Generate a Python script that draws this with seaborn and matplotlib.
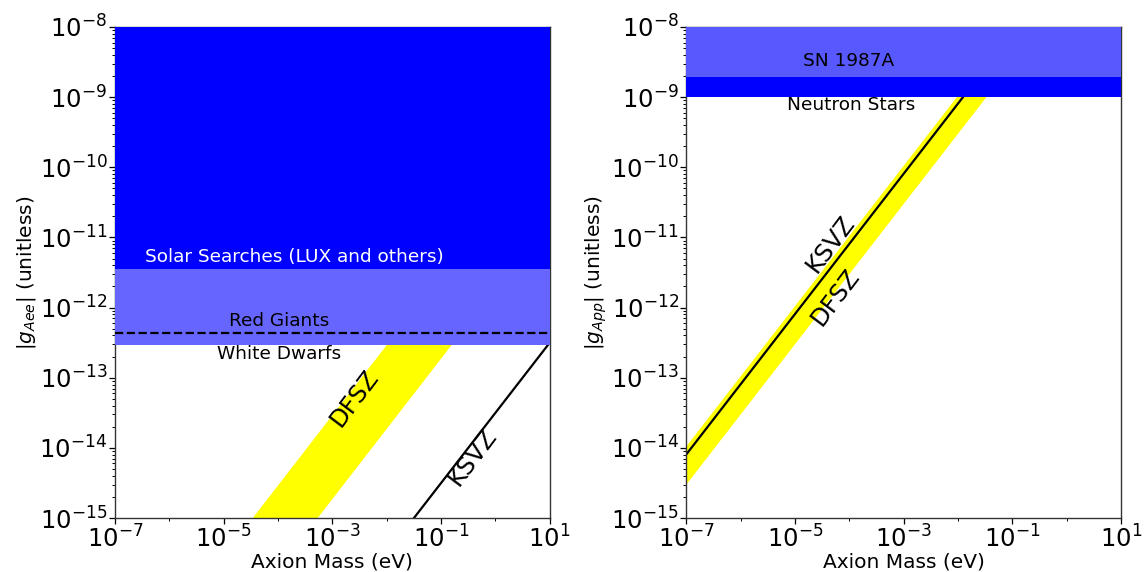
import numpy as np
import pandas as pd
import matplotlib
matplotlib.use("Agg")
import matplotlib.pyplot as plt
import seaborn as sns

# ---------------- data ----------------
mass_range = [1e-7, 1e1]          # eV
g_range = [1e-15, 1e-8]

# Left panel (electron coupling)
solar_bounds = [3.5e-12, 1e-8]        # Solar searches (dark blue)
wd_bounds = [2.9e-13, 3.5e-12]        # White dwarfs (light blue)
red_giant_level = [4.4e-13]           # dashed line
ksvz_e_mass = [1e-7, 1e1]
ksvz_e_g = [3.13e-21, 3.13e-13]
dfsz_e_mass = [1e-7, 1e1]
dfsz_e_upper = [2.9e-18, 2.9e-10]
dfsz_e_lower = [1.85e-19, 1.85e-11]

# Right panel (proton coupling)
ns_bounds = [1e-9, 1.95e-9]           # Neutron stars (dark blue)
sn_bounds = [1.95e-9, 1e-8]           # SN 1987A (light blue)
ksvz_p_mass = [1e-7, 1e1]
ksvz_p_g = [8.1e-15, 8.1e-7]
dfsz_p_mass = [1e-7, 1e1]
dfsz_p_upper = [1.05e-14, 1.05e-6]
dfsz_p_lower = [3.0e-15, 3.0e-7]

# ---------------- style ----------------
sns.set_theme(style="ticks", rc={"text.color": "black", "axes.labelcolor": "black",
                                 "xtick.color": "black", "ytick.color": "black"})
plt.rcParams['font.family'] = ['DejaVu Sans']
plt.rcParams['mathtext.fontset'] = 'dejavusans'

fig, axes = plt.subplots(1, 2, figsize=(11.45, 5.72), dpi=100)
fig.subplots_adjust(left=0.1004, right=0.979, top=0.9528, bottom=0.0944, wspace=0.315)

BLUE = "#0000ff"
LBLUE_L = "#6666ff"
LBLUE_R = "#5858ff"
YELLOW = "#ffff00"

def setup(ax, ylabel):
    ax.set_xscale("log")
    ax.set_yscale("log")
    ax.set_xlim(*mass_range)
    ax.set_ylim(*g_range)
    ax.set_xticks([1e-7, 1e-5, 1e-3, 1e-1, 1e1])
    ax.xaxis.set_minor_locator(matplotlib.ticker.FixedLocator([1e-6, 1e-4, 1e-2, 1e0]))
    ax.xaxis.set_minor_formatter(matplotlib.ticker.NullFormatter())
    ax.set_yticks([10.0**k for k in range(-15, -7)])
    ax.yaxis.set_minor_locator(matplotlib.ticker.LogLocator(base=10, subs=np.arange(2, 10), numticks=20))
    ax.yaxis.set_minor_formatter(matplotlib.ticker.NullFormatter())
    ax.tick_params(axis="both", which="major", labelsize=17.5, length=4, width=0.9,
                   direction="out", pad=1.5)
    ax.tick_params(axis="both", which="minor", length=2.5, width=0.7, direction="out")
    ax.set_xlabel("Axion Mass (eV)", fontsize=14.5, labelpad=0)
    ax.set_ylabel(ylabel, fontsize=14.5, labelpad=1)
    for s in ax.spines.values():
        s.set_visible(True)
        s.set_linewidth(1.0)
        s.set_color("#333333")

# ---------------- left panel ----------------
ax = axes[0]
setup(ax, r"$|g_{Aee}|$ (unitless)")
ax.fill_between(dfsz_e_mass, dfsz_e_lower, dfsz_e_upper, color=YELLOW, lw=0, zorder=1)
sns.lineplot(x=ksvz_e_mass, y=ksvz_e_g, ax=ax, color="black", lw=1.6, zorder=2)
ax.axhspan(wd_bounds[0], wd_bounds[1], color=LBLUE_L, lw=0, zorder=3)
ax.axhspan(solar_bounds[0], solar_bounds[1], color=BLUE, lw=0, zorder=3)
ax.axhline(red_giant_level[0], color="black", ls="--", lw=1.6, zorder=4)

ax.text(2.0e-4, 5.2e-12, "Solar Searches (LUX and others)", color="white",
        fontsize=13.3, ha="center", va="center", zorder=5)
ax.text(1.05e-4, 6.5e-13, "Red Giants", color="black", fontsize=13.3,
        ha="center", va="center", zorder=5)
ax.text(1.05e-4, 2.2e-13, "White Dwarfs", color="black", fontsize=13.3,
        ha="center", va="center", zorder=5)
ax.text(2.6e-3, 5.1e-14, "DFSZ", fontsize=17.5, rotation=53,
        ha="center", va="center", zorder=5)
ax.text(0.38, 7.4e-15, "KSVZ", fontsize=17.5, rotation=53,
        ha="center", va="center", zorder=5)

# ---------------- right panel ----------------
ax = axes[1]
setup(ax, r"$|g_{App}|$ (unitless)")
ax.fill_between(dfsz_p_mass, dfsz_p_lower, dfsz_p_upper, color=YELLOW, lw=0, zorder=1)
sns.lineplot(x=ksvz_p_mass, y=ksvz_p_g, ax=ax, color="black", lw=1.6, zorder=2)
ax.axhspan(sn_bounds[0], sn_bounds[1], color=LBLUE_R, lw=0, zorder=3)
ax.axhspan(ns_bounds[0], ns_bounds[1], color=BLUE, lw=0, zorder=3)

ax.text(9.5e-5, 3.3e-9, "SN 1987A", color="black", fontsize=13.3,
        ha="center", va="center", zorder=5)
ax.text(1.07e-4, 7.8e-10, "Neutron Stars", color="black", fontsize=13.3,
        ha="center", va="center", zorder=5)
ax.text(4.5e-5, 8.1e-12, "KSVZ", fontsize=17.5, rotation=53,
        ha="center", va="center", zorder=5)
ax.text(5.5e-5, 1.4e-12, "DFSZ", fontsize=17.5, rotation=53,
        ha="center", va="center", zorder=5)

fig.savefig("out.png", dpi=100)
